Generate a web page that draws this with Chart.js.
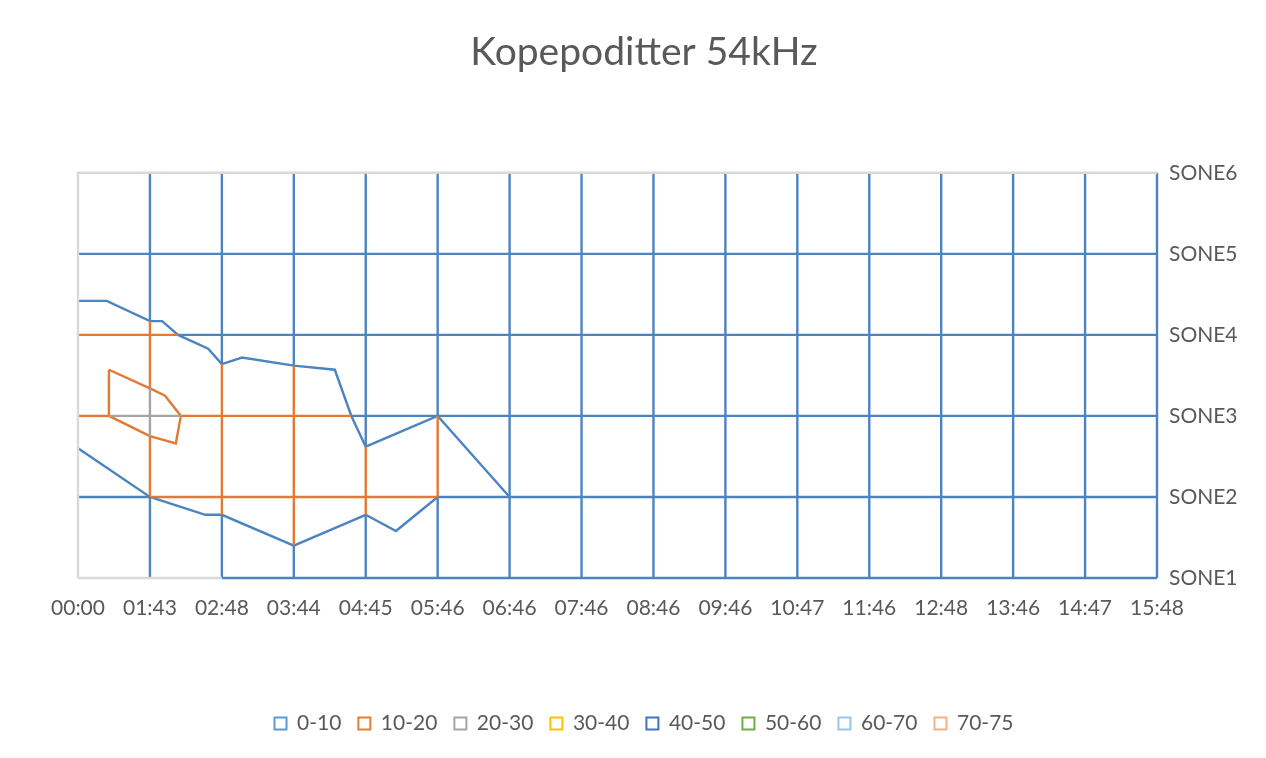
<!DOCTYPE html>
<html><head><meta charset="utf-8">
<script src="https://cdn.jsdelivr.net/npm/chart.js@4.4.0/dist/chart.umd.min.js"></script>
<style>html,body{margin:0;padding:0;background:#fff}#wrap{width:1266px;height:758px;position:relative}</style>
</head><body><div id="wrap"><canvas id="c"></canvas></div>
<script>
const timeLabels = ['00:00','01:43','02:48','03:44','04:45','05:46','06:46','07:46','08:46','09:46','10:47','11:46','12:48','13:46','14:47','15:48'];
const zoneLabels = ['SONE1','SONE2','SONE3','SONE4','SONE5','SONE6'];
const bandLabels = ['0-10','10-20','20-30','30-40','40-50','50-60','60-70','70-75'];
const bandColors = ['#5B9BD5','#ED7D31','#A5A5A5','#FFC000','#4472C4','#70AD47','#9DC3E6','#F4B183'];
const lineColors = ['#4C84C0','#E27A34','#A5A5A5'];
const borderColor = '#D9D9D9';

// contour lines: [time index, zone index]
const contour10Upper = [[0,3.42],[0.40,3.42],[1,3.17],[1.17,3.17],[1.39,3.0],[1.81,2.83],[2,2.64],[2.28,2.72],[3,2.62],[3.57,2.57],[3.8,2.0],[4,1.62],[5,2],[6,1]];
const contour10Lower = [[0,1.6],[1,1],[1.77,0.78],[2,0.78],[3,0.4],[4,0.78],[4.42,0.58],[5,1]];
const contour20 = [[0.43,2.57],[1,2.34],[1.21,2.25],[1.43,2],[1.36,1.66],[1,1.75],[0.43,2],[0.43,2.57]];

// wireframe edges: [from, to, band index]
const columnBands = [
  [],
  [[0,1,0],[1,1.75,1],[1.75,2.34,2],[2.34,3.17,1],[3.17,5,0]],
  [[0,0.78,0],[0.78,2.64,1],[2.64,5,0]],
  [[0,0.4,0],[0.4,2.62,1],[2.62,5,0]],
  [[0,0.78,0],[0.78,1.62,1],[1.62,5,0]],
  [[0,1,0],[1,2,1],[2,5,0]],
  [[0,5,0]],[[0,5,0]],[[0,5,0]],[[0,5,0]],[[0,5,0]],
  [[0,5,0]],[[0,5,0]],[[0,5,0]],[[0,5,0]],[[0,5,0]]
];
const rowBands = [
  [[2,15,0]],
  [[0,1,0],[1,5,1],[5,15,0]],
  [[0,0.43,1],[0.43,1.43,2],[1.43,3.8,1],[3.8,15,0]],
  [[0,1.39,1],[1.39,15,0]],
  [[0,15,0]],
  []
];
const plotBorder = [[[0,0],[0,5],[15,5]], [[0,0],[2,0]]];

const pts = a => a.map(p => ({x:p[0], y:p[1]}));
const datasets = [];
function addLine(points, color){
  datasets.push({data: pts(points), borderColor: color, backgroundColor: color, showLine: true,
    pointRadius: 0, borderWidth: 2.4, fill: false, tension: 0, clip: false});
}
plotBorder.forEach(b => addLine(b, borderColor));
columnBands.forEach((segs, i) => segs.forEach(s => addLine([[i,s[0]],[i,s[1]]], lineColors[s[2]])));
rowBands.forEach((segs, j) => segs.forEach(s => addLine([[s[0],j],[s[1],j]], lineColors[s[2]])));
addLine(contour10Upper, lineColors[0]);
addLine(contour10Lower, lineColors[0]);
addLine(contour20, lineColors[1]);

const FONT = 'Lato';
new Chart(document.getElementById('c'), {
  type: 'scatter',
  data: {datasets},
  options: {
    responsive: true, maintainAspectRatio: false, animation: false, devicePixelRatio: 1,
    layout: {padding: {left: 42, right: 20, top: 0, bottom: 14}},
    plugins: {
      tooltip: {enabled: false},
      title: {display: true, text: 'Kopepoditter 54kHz', color: '#595959',
        font: {family: FONT, size: 39, weight: 'normal'}, padding: {top: 29, bottom: 97}},
      legend: {position: 'bottom', onClick: null,
        labels: {boxWidth: 12, boxHeight: 12, padding: 17, color: '#595959',
          font: {family: FONT, size: 21},
          generateLabels: () => bandLabels.map((t, k) => ({text: t, fillStyle: '#ffffff',
            strokeStyle: bandColors[k], lineWidth: 2, hidden: false, fontColor: '#595959'}))}}
    },
    scales: {
      x: {type: 'linear', min: 0, max: 15,
        grid: {display: false, drawTicks: false}, border: {display: false},
        ticks: {stepSize: 1, autoSkip: false, maxRotation: 0, padding: 18, color: '#595959',
          font: {family: FONT, size: 21}, callback: v => timeLabels[v]},
        afterFit: s => { s.height = 118; }},
      yL: {type: 'linear', position: 'left', min: 0, max: 5,
        grid: {display: false, drawTicks: false}, border: {display: false},
        ticks: {display: false},
        afterFit: s => { s.width = 36; }},
      y: {type: 'linear', position: 'right', min: 0, max: 5,
        grid: {display: false, drawTicks: false}, border: {display: false},
        ticks: {stepSize: 1, padding: 12, color: '#595959',
          font: {family: FONT, size: 21}, callback: v => zoneLabels[v]},
        afterFit: s => { s.width = 89; }}
    }
  }
});
</script></body></html>
